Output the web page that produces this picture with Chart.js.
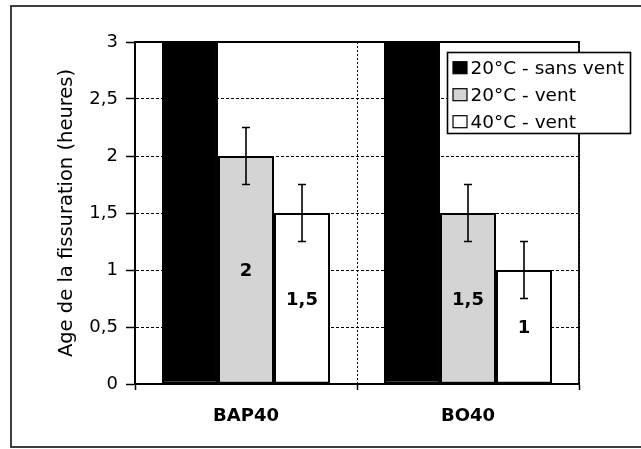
<!DOCTYPE html>
<html><head><meta charset="utf-8">
<script src="https://cdn.jsdelivr.net/npm/chart.js@4/dist/chart.umd.min.js"></script>
<style>html,body{margin:0;padding:0;background:#fff;overflow:hidden}</style>
</head><body>
<canvas id="c" width="641" height="449"></canvas>
<script>
const categories = ['BAP40', 'BO40'];
const seriesNames = ['20°C - sans vent', '20°C - vent', '40°C - vent'];
const sansVent20 = [3, 3];
const vent20 = [2, 1.5];
const vent40 = [1.5, 1];
const errSansVent20 = [0, 0];
const errVent20 = [0.25, 0.25];
const errVent40 = [0.25, 0.25];
const yTickLabels = ['0', '0,5', '1', '1,5', '2', '2,5', '3'];
const valueLabelsVent20 = ['2', '1,5'];
const valueLabelsVent40 = ['1,5', '1'];
const yTitle = 'Age de la fissuration (heures)';

const FONT = 'DejaVu Sans';

const decor = {
  id: 'decor',
  beforeDraw(chart) {
    const ctx = chart.ctx;
    ctx.save();
    ctx.fillStyle = '#fff';
    ctx.fillRect(0, 0, chart.width, chart.height);
    ctx.strokeStyle = '#2a2a2a';
    ctx.lineWidth = 1.8;
    ctx.strokeRect(11, 6, 660, 441);
    ctx.restore();
  },
  afterDatasetsDraw(chart) {
    const ctx = chart.ctx;
    const ca = chart.chartArea;
    const ys = chart.scales.y;
    ctx.save();
    ctx.strokeStyle = '#000';
    ctx.lineWidth = 1.8;
    ctx.beginPath();
    ctx.moveTo(ca.left, ca.top);
    ctx.lineTo(ca.right, ca.top);
    ctx.lineTo(ca.right, ca.bottom);
    ctx.stroke();
    chart.data.datasets.forEach((ds, di) => {
      const meta = chart.getDatasetMeta(di);
      meta.data.forEach((bar, i) => {
        const err = ds.errors[i];
        if (err > 0) {
          const v = ds.data[i];
          const yHi = ys.getPixelForValue(v + err);
          const yLo = ys.getPixelForValue(v - err);
          ctx.beginPath();
          ctx.lineWidth = 1.6;
          ctx.strokeStyle = '#000';
          ctx.moveTo(bar.x, yHi); ctx.lineTo(bar.x, yLo);
          ctx.moveTo(bar.x - 4, yHi); ctx.lineTo(bar.x + 4, yHi);
          ctx.moveTo(bar.x - 4, yLo); ctx.lineTo(bar.x + 4, yLo);
          ctx.stroke();
        }
        if (ds.valueLabels) {
          ctx.fillStyle = '#000';
          ctx.font = 'bold 18px "' + FONT + '"';
          ctx.textAlign = 'center';
          ctx.textBaseline = 'middle';
          ctx.fillText(ds.valueLabels[i], bar.x, (bar.y + bar.base) / 2 + 2);
        }
      });
    });
    ctx.restore();
  },
  afterDraw(chart) {
    const ctx = chart.ctx;
    const ca = chart.chartArea;
    const lx = ca.right - 131.5, ly = ca.top + 10.5, lw = 183, lh = 81;
    ctx.save();
    ctx.fillStyle = '#fff';
    ctx.fillRect(lx, ly, lw, lh);
    ctx.strokeStyle = '#000';
    ctx.lineWidth = 1.6;
    ctx.strokeRect(lx, ly, lw, lh);
    chart.data.datasets.forEach((ds, i) => {
      const cy = ly + 15.2 + i * 27;
      ctx.fillStyle = ds.backgroundColor;
      ctx.fillRect(lx + 5.5, cy - 6, 14, 12);
      ctx.lineWidth = 1.2;
      ctx.strokeStyle = '#000';
      ctx.strokeRect(lx + 5.5, cy - 6, 14, 12);
      ctx.fillStyle = '#000';
      ctx.font = '18.5px "' + FONT + '"';
      ctx.textAlign = 'left';
      ctx.textBaseline = 'middle';
      ctx.fillText(ds.label, lx + 23, cy + 1);
    });
    ctx.restore();
  }
};

new Chart(document.getElementById('c'), {
  type: 'bar',
  data: {
    labels: categories,
    datasets: [
      { label: seriesNames[0], data: sansVent20, errors: errSansVent20, valueLabels: null,
        backgroundColor: '#000000', borderColor: '#000', borderWidth: 2, borderSkipped: false },
      { label: seriesNames[1], data: vent20, errors: errVent20, valueLabels: valueLabelsVent20,
        backgroundColor: '#d4d4d4', borderColor: '#000', borderWidth: 2, borderSkipped: false },
      { label: seriesNames[2], data: vent40, errors: errVent40, valueLabels: valueLabelsVent40,
        backgroundColor: '#ffffff', borderColor: '#000', borderWidth: 2, borderSkipped: false }
    ]
  },
  options: {
    responsive: false,
    animation: false,
    devicePixelRatio: 1,
    categoryPercentage: 0.757,
    barPercentage: 1.0,
    layout: { padding: { left: 40, right: 62, top: 42, bottom: 0 } },
    plugins: { legend: { display: false }, tooltip: { enabled: false } },
    scales: {
      x: {
        ticks: { color: '#000', font: { family: FONT, size: 18, weight: 'bold' }, padding: 16 },
        grid: { offset: true, color: '#000', lineWidth: 1, tickLength: 6, tickColor: '#000', tickWidth: 1.5, tickBorderDash: [] },
        border: { color: '#000', width: 2, dash: [2, 2] },
        afterFit(s) { s.height = 65; }
      },
      y: {
        min: 0, max: 3,
        ticks: { stepSize: 0.5, color: '#000', font: { family: FONT, size: 18 }, padding: 8,
          callback: (v, i) => yTickLabels[i] },
        grid: { color: '#000', lineWidth: 1, tickLength: 9, tickColor: '#000', tickWidth: 1.5, tickBorderDash: [] },
        border: { color: '#000', width: 2, dash: [3, 2] },
        title: { display: true, text: yTitle, color: '#000',
          font: { family: FONT, size: 19.5, lineHeight: 1.2 }, padding: { top: 15.3, bottom: 0 } },
        afterFit(s) { s.width = 95; }
      }
    }
  },
  plugins: [decor]
});
</script>
</body></html>
